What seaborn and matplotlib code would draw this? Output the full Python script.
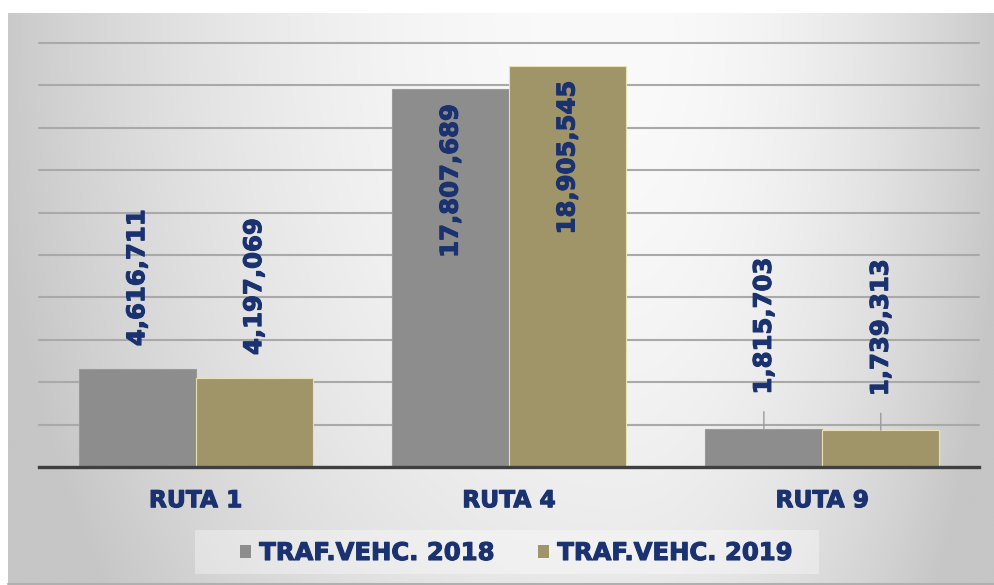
import numpy as np
import pandas as pd
import matplotlib
matplotlib.use("Agg")
import matplotlib.pyplot as plt
import matplotlib.patheffects as pe
import seaborn as sns
from matplotlib.patches import Rectangle

# ---- data ----
rutas = ["RUTA 1", "RUTA 4", "RUTA 9"]
series = ["TRAF.VEHC. 2018", "TRAF.VEHC. 2019"]
traf_2018 = [4616711, 17807689, 1815703]
traf_2019 = [4197069, 18905545, 1739313]
label_style = ["outside", "inside", "leader"]  # data label placement per category

df = pd.DataFrame({
    "ruta": rutas * 2,
    "serie": [series[0]] * 3 + [series[1]] * 3,
    "trafico": traf_2018 + traf_2019,
})

GRAY = "#8d8d8d"
OLIVE = "#9f9568"
NAVY = "#1b3270"
HEAVY = [pe.withStroke(linewidth=0.8, foreground=NAVY)]

sns.set_theme(style="white")
plt.rcParams["font.family"] = ["DejaVu Sans"]

W, H = 995, 585
fig = plt.figure(figsize=(W / 100, H / 100), dpi=100)
fig.patch.set_facecolor("white")

# ---- chart-area background with radial gradient ----
bg = fig.add_axes([8 / W, 0, 987 / W, 572 / H], zorder=0)
ny, nx = 300, 500
yy, xx = np.mgrid[0:1:ny * 1j, 0:1:nx * 1j]
cx = 0.62
dx = np.where(xx < cx, (cx - xx) / cx, (xx - cx) / (1 - cx))
dy = yy * 0.6
d2 = dx ** 2 + dy ** 2
val = np.clip(250 - 48 * d2, 198, 250) / 255.0
bg.imshow(np.dstack([val, val, val]), extent=[0, 1, 1, 0], aspect="auto",
          interpolation="bilinear")
bg.set_xlim(0, 1)
bg.set_ylim(1, 0)
bg.axis("off")
bg.plot([0, 1], [0.002, 0.002], color="#b0b0b0", lw=1.5, transform=bg.transAxes, clip_on=False)

# ---- main axes ----
ax = fig.add_axes([39 / W, 118 / H, 940 / W, 424 / H], zorder=1)
ax.set_facecolor("none")
sns.barplot(data=df, x="ruta", y="trafico", hue="serie", palette=[GRAY, OLIVE],
            width=0.746, saturation=1, ax=ax, zorder=2, legend=False)

ax.set_ylim(0, 20_000_000)
ax.set_yticks(np.arange(0, 20_000_001, 2_000_000))
ax.set_yticklabels([])
ax.yaxis.grid(True, color="#a9a9a9", lw=1.5)
for gl in ax.get_ygridlines():
    gl.set_clip_on(False)
ax.set_axisbelow(True)
ax.tick_params(axis="y", length=0)
ax.tick_params(axis="x", length=0, pad=16)
ax.set_xlabel("")
ax.set_ylabel("")
for s in ["top", "right", "left"]:
    ax.spines[s].set_visible(False)
ax.spines["bottom"].set_color("#3f3f3f")
ax.spines["bottom"].set_linewidth(2.4)
ax.spines["bottom"].set_zorder(3)
for lab in ax.get_xticklabels():
    lab.set_fontweight("bold")
    lab.set_color(NAVY)
    lab.set_fontsize(16.8)
    lab.set_path_effects(HEAVY)

# bar edges
for cont, ec in zip(ax.containers, ["#9a9a9a", "#e9e0b4"]):
    for p in cont.patches:
        p.set_edgecolor(ec)
        p.set_linewidth(0.8)

# ---- data labels ----
for cont in ax.containers:
    for i, p in enumerate(cont.patches):
        x = p.get_x() + p.get_width() / 2
        h = p.get_height()
        txt = f"{int(round(h)):,}"
        style = label_style[i]
        kw = dict(rotation=90, ha="center", fontsize=17.5, fontweight="bold",
                  color=NAVY, textcoords="offset pixels", zorder=4,
                  path_effects=HEAVY)
        if style == "outside":
            ax.annotate(txt, (x, h), xytext=(0, 23), va="bottom", **kw)
        elif style == "inside":
            ax.annotate(txt, (x, h), xytext=(0, -15), va="top", **kw)
        else:
            ax.annotate(txt, (x, h), xytext=(0, 34), va="bottom",
                        arrowprops=dict(arrowstyle="-", color="#9a9a9a", lw=1,
                                        shrinkA=10, shrinkB=0,
                                        connectionstyle="arc3,rad=0.0"), **kw)

# ---- legend ----
handles = [Rectangle((0, 0), 1, 1, facecolor=c, edgecolor="none") for c in [GRAY, OLIVE]]
leg = fig.legend(handles, series, loc="center", bbox_to_anchor=(516 / W, (H - 553) / H),
                 ncol=2, frameon=False, fontsize=17.5, handlelength=0.46, handleheight=0.46,
                 handletextpad=0.34, columnspacing=1.8, borderpad=0.0)
for t in leg.get_texts():
    t.set_fontweight("bold")
    t.set_color(NAVY)
    t.set_path_effects(HEAVY)
leg.set_zorder(5)

fig.canvas.draw()
bb = leg.get_window_extent()
rect = Rectangle((bb.x0 - 45, (H - 574)), bb.width + 45 + 27, 44,
                 transform=None, facecolor="white", alpha=0.35, edgecolor="none", zorder=4)
fig.patches.append(rect)

fig.savefig("out.png", dpi=100)
